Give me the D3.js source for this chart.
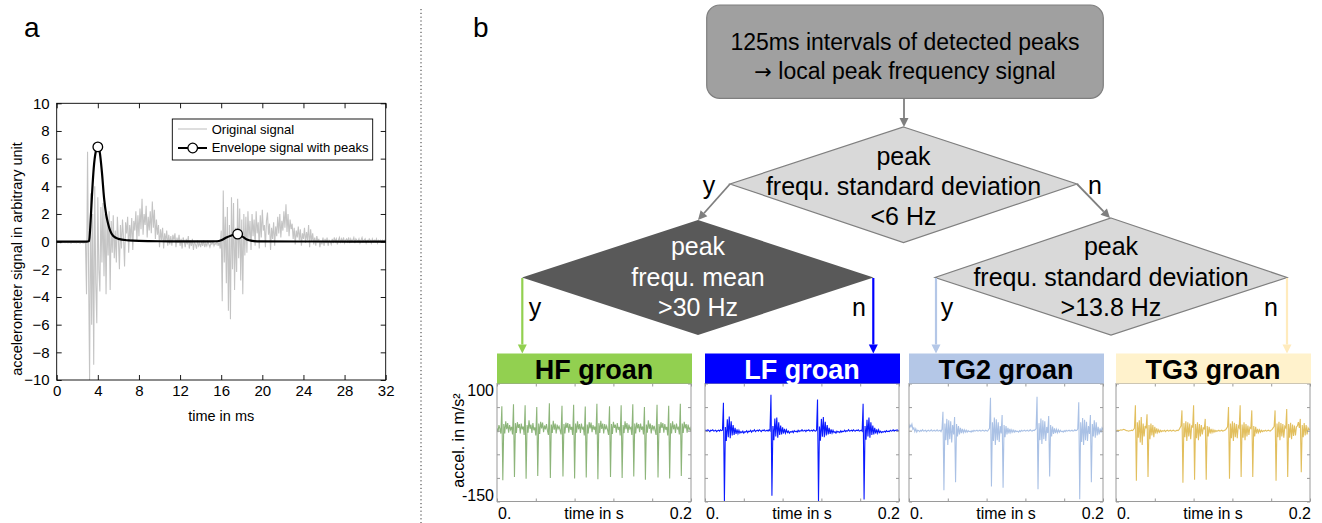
<!DOCTYPE html>
<html><head><meta charset="utf-8">
<script src="https://cdn.jsdelivr.net/npm/d3@7"></script>
<style>body{margin:0;background:#fff}svg{display:block}text{font-family:"Liberation Sans",Arial,sans-serif}</style>
</head><body><svg id="c" width="1322" height="523"></svg>
<script>
// ---------- Panel a data ----------
const sampleStepMs = 0.1;
const originalSignal = [
-0.05,-0.08,-0.04,-0.06,-0.1,-0.05,-0.07,-0.03,-0.08,-0.06,-0.04,-0.09,-0.05,-0.07,-0.1,-0.04,-0.06,-0.08,-0.05,-0.09,-0.06,-0.04,-0.08,-0.1,-0.05,-0.07,-0.09,-0.06,-0.1,
-3.8,6.5,-2.0,-10,3.5,-6,2,-8.9,4.0,-3,-5.9,3.2,-2,-3.6,2.5,-1.5,2.8,-2.5,2.0,-3.8,1.8,-1.0,2.2,-3.5,1.5,-0.8,1.9,-1.2,
0.8,-1.5,1.8,0.2,-2.0,1.2,-0.5,1.6,0.3,-1.8,1.4,0.6,1.8,-0.8,1.2,0.2,1.7,-0.6,1.5,0.8,2.2,0.1,1.9,0.4,2.4,0.9,3.1,0.5,2.0,1.2,2.6,0.3,1.8,0.8,2.2,0.6,2.9,1.0,2.3,0.2,1.6,0.5,1.2,-0.4,0.9,0.1,1.0,-0.5,0.6,0.0,0.8,-0.3,0.5,-0.2,
0.4,-0.3,0.5,0.1,0.6,-0.4,0.3,-0.1,0.5,-0.3,0.2,-0.5,0.3,0.0,-0.4,0.2,-0.2,0.4,-0.5,0.1,-0.3,0.2,-0.6,0.0,-0.2,-0.5,0.1,-0.3,-0.1,-0.4,0.0,-0.3,0.1,-0.4,-0.1,-0.3,0.0,-0.2,-0.4,-0.1,-0.2,0.0,-0.3,-0.1,-0.2,0.1,-0.3,0.0,
-0.5,0.8,-4.3,3.7,-1.5,1.8,-3.0,2.5,-5.0,1.2,-5.6,3.2,-2.0,2.8,-3.5,1.0,-2.2,3.1,-1.2,2.4,-2.8,1.6,-3.8,2.0,-1.0,1.8,-0.8,2.2,0.2,1.5,-0.6,2.0,0.4,1.6,-0.3,2.2,0.6,1.4,-0.5,1.9,0.3,2.3,0.8,1.2,-0.4,1.5,
2.1,0.5,1.3,-0.6,1.0,0.2,1.4,-0.3,1.1,0.4,1.8,0.6,2.0,0.3,1.5,0.8,2.2,1.0,2.7,0.7,2.0,0.4,1.6,0.9,1.3,0.2,1.0,-0.2,0.8,0.3,1.1,0.1,0.9,-0.3,0.6,0.2,1.0,-0.1,0.7,0.1,1.2,-0.4,0.9,0.0,0.6,-0.2,0.3,-0.3,0.4,0.0,0.2,-0.4,0.1,-0.2,0.3,-0.3,
0.2,-0.1,0.3,-0.3,0.1,0.0,-0.2,0.2,-0.1,0.3,0.0,0.2,-0.2,0.1,0.3,-0.1,0.2,0.0,0.3,-0.1,0.1,0.2,0.0,0.3,-0.1,0.2,0.0,0.1,0.3,-0.1,0.2,0.1,0.0,0.2,-0.1,0.1,0.3,0.0,0.1,0.2,-0.1,0.1,0.0,0.2,0.1,-0.1,0.2,0.0,0.1,0.0,0.2,-0.1,0.1,0.0,0.1,0.0,0.1,0.0,0.1,0.0
];
const envelopeTimes  = [0, 2.9, 3.15, 3.3, 3.45, 3.6, 3.8, 4.0, 4.2, 4.4, 4.6, 4.8, 5.0, 5.2, 5.5, 6.0, 7.0, 8.0, 10, 15, 15.6, 16.0, 16.5, 17.0, 17.6, 18.0, 18.5, 19.0, 19.5, 25, 32];
const envelopeValues = [0, 0, 0.05, 1.5, 3.6, 5.3, 6.5, 6.85, 6.4, 5.0, 3.2, 2.0, 1.3, 0.8, 0.4, 0.2, 0.09, 0.05, 0.03, 0.02, 0.03, 0.1, 0.3, 0.45, 0.55, 0.4, 0.15, 0.05, 0.02, 0.01, 0];
const peakTimes  = [4.0, 17.6];
const peakValues = [6.85, 0.55];
const xTicksA = [0, 4, 8, 12, 16, 20, 24, 28, 32];
const yTicksA = [-10, -8, -6, -4, -2, 0, 2, 4, 6, 8, 10];
const legendLabels = ["Original signal", "Envelope signal with peaks"];

// ---------- Panel b data ----------
const groanNames = ["HF groan", "LF groan", "TG2 groan", "TG3 groan"];
const groanStepS = 0.001;
const hfSignal = [
5,-3,12,4,-6,
52,-105,14,-6,20,3,16,-4,12,2,8,-8,
56,-98,16,-5,18,6,14,-6,15,3,9,-9,
54,-102,12,-4,22,4,13,-5,16,1,7,-10,
50,-96,15,-7,19,5,17,-3,11,3,14,0,-9,
58,-100,13,-5,21,2,15,-6,13,4,9,1,-8,
53,-97,14,-6,17,6,16,-4,14,2,8,-9,
55,-101,15,-4,20,3,14,-5,15,4,7,-10,
51,-99,13,-6,18,5,17,-3,12,2,9,-8,
57,-103,16,-5,21,4,15,-6,14,3,10,1,-9,
52,-98,14,-7,19,6,13,-4,16,2,8,-10,
54,-100,12,-5,20,3,16,-5,13,4,7,-9,
56,-97,15,-6,17,5,14,-3,15,2,9,-8,
50,-104,13,-4,22,4,15,-6,12,3,10,0,-9,
55,-99,14,-5,18,6,16,-4,14,2,8,-10,
53,-101,16,-6,20,3,13,-5,15,4,7,-8,
57,-96,15,-5,19,5,14,-4,13,2,6,-2
];
const lfSignal = [
0,1,-1,2,0,-2,1,0,2,-1,0,1,-2,0,1,-1,2,0,1,
59,-150,8,-22,24,-14,30,-16,20,-10,12,-9,6,-7,3,-6,1,-5,-2,-4,-1,-5,-2,-3,0,-4,-1,-2,1,-3,0,-1,2,-2,0,1,-1,2,0,-2,1,0,2,-1,0,1,-1,2,0,
76,-138,10,-20,26,-12,28,-15,18,-9,11,-8,7,-6,4,-5,2,-4,-1,-5,-2,-3,-1,-4,0,-2,-1,-3,1,-2,0,-1,2,-1,0,1,-2,1,0,2,-1,0,1,-1,2,0,-1,1,
66,-150,9,-21,25,-13,29,-14,19,-10,12,-8,6,-7,3,-5,1,-4,-2,-5,-1,-3,-2,-4,0,-3,-1,-2,1,-2,0,-1,2,-1,0,1,-1,2,0,-1,1,0,2,-1,0,1,-1,
57,-146,10,-19,23,-12,28,-15,18,-9,11,-8,6,-6,3,-5,2,-4,-1,-4,-2,-3,-1,-3,0,-2,-1,-2,1,-1,0,2,-1,1,0,2,-1,1
];
const tg2Signal = [
5,12,8,14,3,6,-2,4,-3,1,
0,-2,1,-1,2,-1,0,1,-2,0,1,-1,0,2,-1,0,1,-1,0,2,-1,0,1,-2,
3,40,-126,15,-20,25,-30,22,-18,20,-25,12,-8,29,-109,14,-12,10,-8,
6,-5,4,-4,2,-3,1,-3,0,-2,-1,-3,0,-2,1,-1,0,1,-1,0,1,-1,0,1,0,-1,1,0,-1,
2,5,70,-118,18,-22,28,-30,24,-20,18,-24,10,-6,33,-121,12,-14,10,
-8,6,-6,4,-4,2,-3,1,-3,0,-2,-1,-3,0,-2,1,-1,0,1,-1,0,1,-1,0,2,0,-1,1,0,
2,4,72,-124,16,-20,26,-28,22,-18,20,-22,8,-5,31,-97,12,-12,9,
-7,5,-5,3,-4,2,-3,1,-2,-1,-3,0,-2,1,-1,0,1,-1,0,1,-1,0,2,0,
1,4,60,-145,18,-24,27,-30,23,-20,19,-22,10,-7,33,-109,14,-12,22,-15,18,-10,8,-8,5,-4,6,2
];
const tg3Signal = [
0,0,1,0,1,2,1,2,3,2,1,0,0,-1,0,0,1,0,
2,5,54,-106,18,-15,22,-25,29,-30,15,-12,10,5,35,-98,12,-18,15,-10,12,-14,8,-6,5,-4,2,
-3,1,-2,0,-1,1,-2,0,1,-1,0,1,-1,0,1,0,-1,0,1,0,
2,6,10,43,-110,16,-14,20,-22,18,-12,15,-18,10,8,54,-104,14,-16,18,-20,14,-12,12,-8,6,4,25,-104,10,-12,8,
-6,4,-4,2,-3,1,-2,0,-1,1,-1,0,1,-1,0,1,
2,5,8,50,-102,15,-16,20,-22,17,-14,14,-16,10,6,54,-98,13,-15,18,-20,14,-12,11,-9,7,5,43,-98,10,-12,8,-6,
4,-4,2,-3,1,-2,0,-1,1,-1,0,1,0,-1,1,
3,6,9,43,-106,15,-14,19,-20,16,-12,14,-15,9,6,46,-98,14,-15,17,-18,13,-11,11,-10,8,10,18,6,25,-88,12,-14,16,-10,12,-8,6,2,4
];
const groanSignals = [hfSignal, lfSignal, tg2Signal, tg3Signal];
const groanYTicks = [-150, -100, -50, 0, 50, 100];
const groanYLabelled = [-150, 100];
const groanXTicks = [0, 0.04, 0.08, 0.12, 0.16, 0.2];
const groanXLabels = ["0.", "time in s", "0.2"];
const groanYTitle = "accel. in m/s²";

const boxLines = [["", "125ms intervals of detected peaks"], ["\u2192", " local peak frequency signal"]];
const decision1Lines = ["peak", "frequ. standard deviation", "<6 Hz"];
const decision2Lines = ["peak", "frequ. mean", ">30 Hz"];
const decision3Lines = ["peak", "frequ. standard deviation", ">13.8 Hz"];
const branchLabels = ["y", "n"];

// ---------- styles ----------
const FONT = '"Liberation Sans", Arial, sans-serif';
const groanBarFill = ["#92d050", "#0000ff", "#b4c7e7", "#fff2cc"];
const groanTitleFill = ["#000", "#fff", "#000", "#000"];
const groanLineColor = ["#8db57a", "#0a1aff", "#aac1e5", "#e2bf5e"];
const arrowColors = ["#92d050", "#0000ff", "#b4c7e7", "#ffebbd"];

const svg = d3.select("#c");
svg.append("rect").attr("width", 1322).attr("height", 523).attr("fill", "#fff");
const defs = svg.append("defs");

// ================= Panel a =================
const aL = 56.7, aR = 385.7, aT = 103.3, aB = 380;
const xA = d3.scaleLinear().domain([0, 32]).range([aL, aR]);
const yA = d3.scaleLinear().domain([-10, 10]).range([aB, aT]);
defs.append("clipPath").attr("id", "clipA").append("rect")
  .attr("x", aL).attr("y", aT).attr("width", aR - aL).attr("height", aB - aT);

const ga = svg.append("g");
ga.append("path").datum(originalSignal)
  .attr("d", d3.line().x((d, i) => xA(i * sampleStepMs)).y(d => yA(d)))
  .attr("fill", "none").attr("stroke", "#c4c4c4").attr("stroke-width", 1.1)
  .attr("clip-path", "url(#clipA)");
const envData = envelopeTimes.map((t, i) => [t, envelopeValues[i]]);
ga.append("path").datum(envData)
  .attr("d", d3.line().x(d => xA(d[0])).y(d => yA(d[1])).curve(d3.curveMonotoneX))
  .attr("fill", "none").attr("stroke", "#000").attr("stroke-width", 2.2);
ga.selectAll("circle.pk").data(peakTimes).join("circle").attr("class", "pk")
  .attr("cx", d => xA(d)).attr("cy", (d, i) => yA(peakValues[i])).attr("r", 4.8)
  .attr("fill", "#fff").attr("stroke", "#000").attr("stroke-width", 1.3);

function styleAxis(g, size) {
  g.select(".domain").remove();
  g.selectAll(".tick line").attr("stroke", "#000").attr("stroke-width", 0.9);
  g.selectAll("text").attr("font-family", FONT).attr("font-size", size).attr("fill", "#000");
}
ga.append("g").attr("transform", `translate(0,${aB})`)
  .call(d3.axisBottom(xA).tickValues(xTicksA).tickSizeInner(-5).tickSizeOuter(0).tickPadding(5))
  .call(g => styleAxis(g, 15));
ga.append("g").attr("transform", `translate(0,${aT})`)
  .call(d3.axisTop(xA).tickValues(xTicksA).tickSizeInner(-5).tickSizeOuter(0).tickFormat(""))
  .call(g => styleAxis(g, 15));
ga.append("g").attr("transform", `translate(${aL},0)`)
  .call(d3.axisLeft(yA).tickValues(yTicksA).tickSizeInner(-5).tickSizeOuter(0).tickPadding(7))
  .call(g => styleAxis(g, 15));
ga.append("g").attr("transform", `translate(${aR},0)`)
  .call(d3.axisRight(yA).tickValues(yTicksA).tickSizeInner(-5).tickSizeOuter(0).tickFormat(""))
  .call(g => styleAxis(g, 15));
ga.append("rect").attr("x", aL).attr("y", aT).attr("width", aR - aL).attr("height", aB - aT)
  .attr("fill", "none").attr("stroke", "#000").attr("stroke-width", 0.9);

ga.append("text").attr("x", (aL + aR) / 2).attr("y", 421).attr("text-anchor", "middle")
  .attr("font-size", 14.5).text("time in ms");
ga.append("text").attr("transform", "translate(22,259) rotate(-90)").attr("text-anchor", "middle")
  .attr("font-size", 14.5).text("accelerometer signal in arbitrary unit");

// legend
const lg = ga.append("g");
lg.append("rect").attr("x", 172.3).attr("y", 119).attr("width", 200.4).attr("height", 41)
  .attr("fill", "#fff").attr("stroke", "#000").attr("stroke-width", 0.9);
lg.append("line").attr("x1", 178).attr("x2", 207).attr("y1", 129).attr("y2", 129)
  .attr("stroke", "#c4c4c4").attr("stroke-width", 1.1);
lg.append("line").attr("x1", 178).attr("x2", 207).attr("y1", 148).attr("y2", 148)
  .attr("stroke", "#000").attr("stroke-width", 2);
lg.append("circle").attr("cx", 192.7).attr("cy", 148).attr("r", 4.8)
  .attr("fill", "#fff").attr("stroke", "#000").attr("stroke-width", 1.3);
lg.selectAll("text").data(legendLabels).join("text")
  .attr("x", 211.7).attr("y", (d, i) => 133.5 + i * 18.5).attr("font-size", 13).text(d => d);

// panel labels + separator
svg.append("text").attr("x", 24).attr("y", 37).attr("font-size", 28).text("a");
svg.append("text").attr("x", 473).attr("y", 37).attr("font-size", 28).text("b");
svg.append("line").attr("x1", 421).attr("x2", 421).attr("y1", 9).attr("y2", 523)
  .attr("stroke", "#333").attr("stroke-width", 1).attr("stroke-dasharray", "1.2,2.6");

// ================= Panel b flowchart =================
const fb = svg.append("g");
function arrow(x1, y1, x2, y2, color, w) {
  const ang = Math.atan2(y2 - y1, x2 - x1), hl = 9, hw = 4.5;
  const bx = x2 - hl * Math.cos(ang), by = y2 - hl * Math.sin(ang);
  fb.append("line").attr("x1", x1).attr("y1", y1).attr("x2", bx).attr("y2", by)
    .attr("stroke", color).attr("stroke-width", w);
  const px = -Math.sin(ang) * hw, py = Math.cos(ang) * hw;
  fb.append("path").attr("d", `M${x2},${y2}L${bx + px},${by + py}L${bx - px},${by - py}Z`).attr("fill", color);
}
function lines(arr, cx, y0, dy, size, fill) {
  fb.selectAll(null).data(arr).join("text")
    .attr("x", cx).attr("y", (d, i) => y0 + i * dy).attr("text-anchor", "middle")
    .attr("font-size", size).attr("fill", fill).text(d => d);
}
function diamond(cx, top, left, right, bottom, midY, fill, stroke) {
  fb.append("path").attr("d", `M${cx},${top}L${right},${midY}L${cx},${bottom}L${left},${midY}Z`)
    .attr("fill", fill).attr("stroke", stroke).attr("stroke-width", stroke === "none" ? 0 : 1.2);
}
// top box
fb.append("rect").attr("x", 706.7).attr("y", 5).attr("width", 396.6).attr("height", 93.3).attr("rx", 13)
  .attr("fill", "#a0a0a0").attr("stroke", "#7f7f7f").attr("stroke-width", 1.2);
boxLines.forEach((parts, i) => {
  const t = fb.append("text").attr("x", 905).attr("y", 50 + i * 28.5).attr("text-anchor", "middle")
    .attr("font-size", 23).attr("fill", "#000");
  if (parts[0]) t.append("tspan").attr("font-family", '"DejaVu Sans", sans-serif').attr("font-size", 21).text(parts[0]);
  t.append("tspan").text(parts[1]);
});
arrow(904, 98.5, 904, 127, "#7f7f7f", 1.8);
// decision 1
diamond(903.5, 127, 730, 1077, 242.5, 184, "#d9d9d9", "#7f7f7f");
lines(decision1Lines, 903.5, 165, 30, 25, "#000");
arrow(730, 184, 698, 220, "#7f7f7f", 1.8);
arrow(1077, 184, 1110, 218, "#7f7f7f", 1.8);
fb.append("text").attr("x", 709).attr("y", 194).attr("text-anchor", "middle").attr("font-size", 25).text(branchLabels[0]);
fb.append("text").attr("x", 1095).attr("y", 194).attr("text-anchor", "middle").attr("font-size", 25).text(branchLabels[1]);
// decision 2
diamond(698, 220, 522, 873.5, 335, 277.5, "#595959", "none");
lines(decision2Lines, 698, 255, 30.5, 25, "#fff");
// decision 3
diamond(1111, 218, 935, 1287, 335, 277.5, "#d9d9d9", "#7f7f7f");
lines(decision3Lines, 1111, 255, 30.5, 25, "#000");
// colored branches
const branchX = [522.3, 873.3, 936, 1287];
branchX.forEach((x, k) => arrow(x, 278, x, 353.5, arrowColors[k], 2.2));
fb.append("text").attr("x", 535).attr("y", 316).attr("text-anchor", "middle").attr("font-size", 25).text(branchLabels[0]);
fb.append("text").attr("x", 859).attr("y", 316).attr("text-anchor", "middle").attr("font-size", 25).text(branchLabels[1]);
fb.append("text").attr("x", 947).attr("y", 316).attr("text-anchor", "middle").attr("font-size", 25).text(branchLabels[0]);
fb.append("text").attr("x", 1271).attr("y", 316).attr("text-anchor", "middle").attr("font-size", 25).text(branchLabels[1]);

// ================= groan subplots =================
const groanX0 = [497, 705, 909, 1116];
const gW = 194, gTop = 383.5, gBot = 501.5;
groanNames.forEach((name, k) => {
  const x0 = groanX0[k];
  const xs = d3.scaleLinear().domain([0, 0.2]).range([x0, x0 + gW]);
  const ys = d3.scaleLinear().domain([-150, 100]).range([gBot, gTop]);
  const g = svg.append("g");
  defs.append("clipPath").attr("id", "clipG" + k).append("rect")
    .attr("x", x0).attr("y", gTop).attr("width", gW).attr("height", gBot - gTop);
  g.append("path").datum(groanSignals[k])
    .attr("d", d3.line().x((d, i) => xs(i * groanStepS)).y(d => ys(d)))
    .attr("fill", "none").attr("stroke", groanLineColor[k]).attr("stroke-width", 1.1)
    .attr("clip-path", `url(#clipG${k})`);
  const tk = gg => { gg.select(".domain").remove(); gg.selectAll(".tick line").attr("stroke", "#9a9a9a"); };
  g.append("g").attr("transform", `translate(0,${gBot})`)
    .call(d3.axisBottom(xs).tickValues(groanXTicks).tickSizeInner(-3).tickSizeOuter(0).tickFormat("")).call(tk);
  g.append("g").attr("transform", `translate(0,${gTop})`)
    .call(d3.axisTop(xs).tickValues(groanXTicks).tickSizeInner(-3).tickSizeOuter(0).tickFormat("")).call(tk);
  g.append("g").attr("transform", `translate(${x0},0)`)
    .call(d3.axisLeft(ys).tickValues(groanYTicks).tickSizeInner(-3).tickSizeOuter(0).tickFormat("")).call(tk);
  g.append("g").attr("transform", `translate(${x0 + gW},0)`)
    .call(d3.axisRight(ys).tickValues(groanYTicks).tickSizeInner(-3).tickSizeOuter(0).tickFormat("")).call(tk);
  g.append("rect").attr("x", x0).attr("y", gTop).attr("width", gW).attr("height", gBot - gTop)
    .attr("fill", "none").attr("stroke", "#9a9a9a").attr("stroke-width", 1);
  // title bar
  g.append("rect").attr("x", x0).attr("y", 353.5).attr("width", gW + 1).attr("height", gTop - 353.5)
    .attr("fill", groanBarFill[k]);
  g.append("text").attr("x", x0 + gW / 2).attr("y", 379).attr("text-anchor", "middle")
    .attr("font-size", 27).attr("font-weight", "bold").attr("fill", groanTitleFill[k]).text(name);
  // x labels
  g.append("text").attr("x", x0 + 1).attr("y", 518.5).attr("font-size", 16).text(groanXLabels[0]);
  g.append("text").attr("x", x0 + gW / 2).attr("y", 518.5).attr("text-anchor", "middle").attr("font-size", 16).text(groanXLabels[1]);
  g.append("text").attr("x", x0 + gW + 1).attr("y", 518.5).attr("text-anchor", "end").attr("font-size", 16).text(groanXLabels[2]);
  if (k === 0) {
    g.selectAll("text.yl").data(groanYLabelled).join("text").attr("class", "yl")
      .attr("x", x0 - 3).attr("y", d => ys(d) + (d > 0 ? 12.5 : -1)).attr("text-anchor", "end")
      .attr("font-size", 16).text(d => String(d));
    g.append("text").attr("transform", `translate(464,${(gTop + gBot) / 2 - 2}) rotate(-90)`)
      .attr("text-anchor", "middle").attr("font-size", 16).text(groanYTitle);
  }
});
</script></body></html>
